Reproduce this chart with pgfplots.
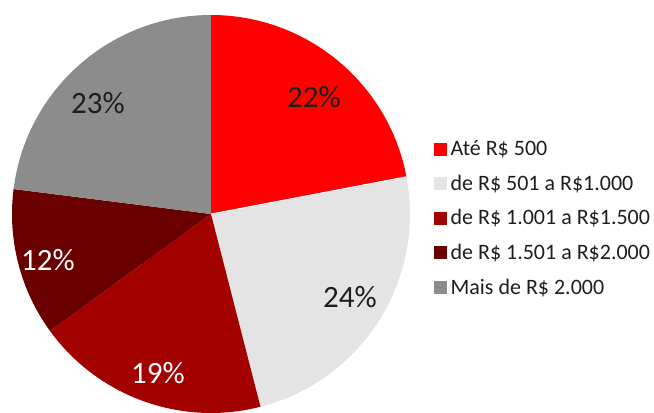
\documentclass[border=0pt]{standalone}
\usepackage{pgfplots}
\pgfplotsset{compat=1.18}
\usepackage{fontspec}
\setmainfont{Carlito}
\definecolor{cA}{HTML}{FF0000}
\definecolor{cB}{HTML}{E4E4E4}
\definecolor{cC}{HTML}{A30000}
\definecolor{cD}{HTML}{6B0000}
\definecolor{cE}{HTML}{8C8C8C}
\definecolor{txt}{HTML}{1E1E1E}
\begin{document}
\begin{tikzpicture}
\begin{axis}[
  scale only axis, width=654pt, height=413pt,
  xmin=0, xmax=654, ymin=0, ymax=413,
  hide axis, clip=false,
  legend style={at={(434/654,0.4716)}, anchor=west, draw=none, fill=none,
    legend cell align=left, inner sep=0pt, row sep=17.75pt,
    nodes={font=\fontsize{22}{26}\selectfont, text=txt, inner xsep=4pt, inner ysep=0pt}},
  legend image code/.code={\fill[#1] (0pt,-6pt) rectangle (12pt,6pt);},
]
\path (axis cs:0,0) rectangle (axis cs:654,413);
% slices: percentages 22, 24, 19, 12, 23 ; clockwise from 90 deg
\fill[cA, overlay] (axis cs:211,199) -- (axis cs:211,398) arc[start angle=90, end angle={90-22*3.6}, radius=199] -- cycle;
\fill[cB, overlay] (axis cs:211,199) -- (axis cs:{211+199*cos(90-22*3.6)},{199+199*sin(90-22*3.6)}) arc[start angle={90-22*3.6}, end angle={90-46*3.6}, radius=199] -- cycle;
\fill[cC, overlay] (axis cs:211,199) -- (axis cs:{211+199*cos(90-46*3.6)},{199+199*sin(90-46*3.6)}) arc[start angle={90-46*3.6}, end angle={90-65*3.6}, radius=199] -- cycle;
\fill[cD, overlay] (axis cs:211,199) -- (axis cs:{211+199*cos(90-65*3.6)},{199+199*sin(90-65*3.6)}) arc[start angle={90-65*3.6}, end angle={90-77*3.6}, radius=199] -- cycle;
\fill[cE, overlay] (axis cs:211,199) -- (axis cs:{211+199*cos(90-77*3.6)},{199+199*sin(90-77*3.6)}) arc[start angle={90-77*3.6}, end angle={90-100*3.6}, radius=199] -- cycle;
\draw[white, line width=0.8pt, overlay] (axis cs:211,199) -- (axis cs:{211+199*cos(90-22*3.6)},{199+199*sin(90-22*3.6)});
% labels
\node[font=\fontsize{31}{33}\selectfont, text=txt] at (axis cs:314,316) {22\%};
\node[font=\fontsize{31}{33}\selectfont, text=txt] at (axis cs:350,116) {24\%};
\node[font=\fontsize{31}{33}\selectfont, text=white] at (axis cs:158,40) {19\%};
\node[font=\fontsize{31}{33}\selectfont, text=white] at (axis cs:48,153) {12\%};
\node[font=\fontsize{31}{33}\selectfont, text=txt] at (axis cs:98,310) {23\%};
\addlegendimage{cA}
\addlegendentry{Até R\$ 500}
\addlegendimage{cB}
\addlegendentry{de R\$ 501 a R\$1.000}
\addlegendimage{cC}
\addlegendentry{de R\$ 1.001 a R\$1.500}
\addlegendimage{cD}
\addlegendentry{de R\$ 1.501 a R\$2.000}
\addlegendimage{cE}
\addlegendentry{Mais de R\$ 2.000}
\end{axis}
\end{tikzpicture}
\end{document}
